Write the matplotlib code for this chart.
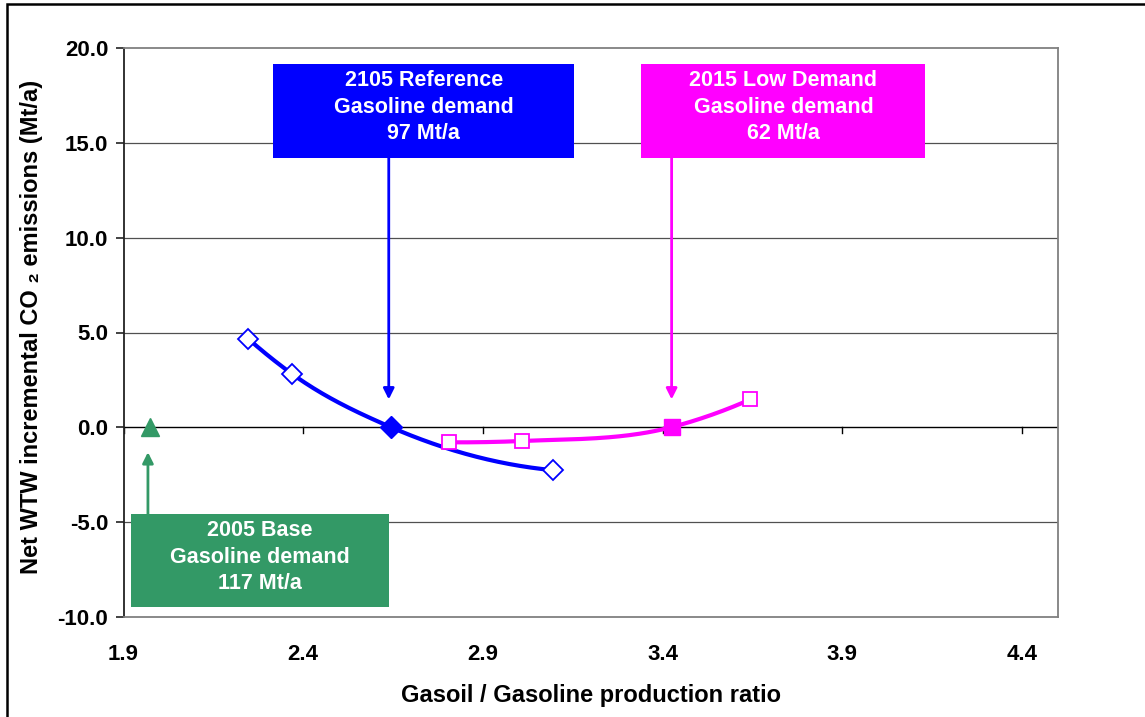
import numpy as np
import matplotlib
matplotlib.use("Agg")
import matplotlib.pyplot as plt
from matplotlib.patches import Rectangle

plt.rcParams['font.family'] = ['Liberation Sans', 'DejaVu Sans']
plt.rcParams['font.weight'] = 'bold'

# ---------------- data ----------------
ref_x = [2.247, 2.368, 2.645, 3.095]
ref_y = [4.67, 2.83, 0.0, -2.26]
ref_filled = 2  # index of highlighted point

low_x = [2.806, 3.009, 3.427, 3.644]
low_y = [-0.79, -0.72, 0.02, 1.47]
low_filled = 2

base_x = [1.973]
base_y = [0.0]

x_ticks = [1.9, 2.4, 2.9, 3.4, 3.9, 4.4]
y_ticks = [-10.0, -5.0, 0.0, 5.0, 10.0, 15.0, 20.0]

box_ref = ["2105 Reference", "Gasoline demand", "97 Mt/a"]
box_low = ["2015 Low Demand", "Gasoline demand", "62 Mt/a"]
box_base = ["2005 Base", "Gasoline demand", "117 Mt/a"]

BLUE = "#0000FF"
MAGENTA = "#FF00FF"
GREEN = "#339966"


def smooth(xs, ys, n=60):
    """Smoothed line through the points (cubic Hermite, Bessel tangents)."""
    x = np.asarray(xs, float)
    y = np.asarray(ys, float)
    h = np.diff(x)
    s = np.diff(y) / h
    m = np.empty_like(x)
    for i in range(1, len(x) - 1):
        m[i] = (h[i] * s[i - 1] + h[i - 1] * s[i]) / (h[i - 1] + h[i])
    m[0] = s[0] - (s[1] - s[0]) * h[0] / (h[0] + h[1])
    m[-1] = s[-1] + (s[-1] - s[-2]) * h[-1] / (h[-2] + h[-1])
    X, Y = [], []
    t = np.linspace(0, 1, n)
    for i in range(len(x) - 1):
        h00 = 2 * t**3 - 3 * t**2 + 1
        h10 = t**3 - 2 * t**2 + t
        h01 = -2 * t**3 + 3 * t**2
        h11 = t**3 - t**2
        X.append(x[i] + t * h[i])
        Y.append(h00 * y[i] + h10 * h[i] * m[i] + h01 * y[i + 1] + h11 * h[i] * m[i + 1])
    return np.concatenate(X), np.concatenate(Y)


W, H = 1145, 717
fig = plt.figure(figsize=(W / 100, H / 100), dpi=100)
L, R, T, B = 123.5, 1058, 48, 617
ax = fig.add_axes([L / W, 1 - B / H, (R - L) / W, (B - T) / H])

ax.set_xlim(1.9, 4.5)
ax.set_ylim(-10, 20)

# gridlines
for yv in y_ticks:
    if -10 < yv < 20 and yv != 0:
        ax.axhline(yv, color="#505050", lw=0.9, zorder=1)
ax.axhline(0, color="black", lw=1.0, zorder=2)
# x tick marks on the zero line
for xv in x_ticks:
    ax.plot([xv, xv], [0, -0.3], color="black", lw=1.0, zorder=2)

# spines
for s in ["top", "right", "bottom"]:
    ax.spines[s].set_color("#808080")
    ax.spines[s].set_linewidth(1.3)
ax.spines["left"].set_color("#222222")
ax.spines["left"].set_linewidth(1.3)

ax.set_xticks(x_ticks)
ax.set_xticklabels([f"{v:.1f}" for v in x_ticks])
ax.set_yticks(y_ticks)
ax.set_yticklabels([f"{v:.1f}" for v in y_ticks])
ax.tick_params(axis="x", length=0, pad=19.5, labelsize=16)
ax.tick_params(axis="y", length=6, width=1.2, color="#222222", pad=5, labelsize=16)
for lab in ax.get_xticklabels() + ax.get_yticklabels():
    lab.set_fontweight("bold")

ax.set_xlabel("Gasoil / Gasoline production ratio", fontsize=17, fontweight="bold")
ax.set_ylabel("Net WTW incremental CO \u2082 emissions (Mt/a)", fontsize=17, fontweight="bold")
ax.xaxis.set_label_coords(0.5, -0.117)
ax.yaxis.set_label_coords(-0.086, 0.51)

# series lines
sx, sy = smooth(ref_x, ref_y)
ax.plot(sx, sy, color=BLUE, lw=3, zorder=4, solid_capstyle="round")
sx, sy = smooth(low_x, low_y)
ax.plot(sx, sy, color=MAGENTA, lw=3, zorder=4, solid_capstyle="round")

# markers
open_ref = [i for i in range(len(ref_x)) if i != ref_filled]
ax.plot([ref_x[i] for i in open_ref], [ref_y[i] for i in open_ref], ls="none",
        marker="D", ms=10.5, mfc="white", mec=BLUE, mew=1.3, zorder=5)
ax.plot([ref_x[ref_filled]], [ref_y[ref_filled]], ls="none", marker="D", ms=11,
        mfc=BLUE, mec=BLUE, zorder=6)
open_low = [i for i in range(len(low_x)) if i != low_filled]
ax.plot([low_x[i] for i in open_low], [low_y[i] for i in open_low], ls="none",
        marker="s", ms=10.5, mfc="white", mec=MAGENTA, mew=1.3, zorder=5)
ax.plot([low_x[low_filled]], [low_y[low_filled]], ls="none", marker="s", ms=11,
        mfc=MAGENTA, mec=MAGENTA, zorder=6)
ax.plot(base_x, base_y, ls="none", marker="^", ms=13, mfc=GREEN, mec=GREEN, zorder=6)


# annotation boxes (positions in data coordinates)
def box(x0, x1, y0, y1, color, lines):
    ax.add_patch(Rectangle((x0, y0), x1 - x0, y1 - y0, facecolor=color,
                           edgecolor="none", zorder=7))
    ax.text((x0 + x1) / 2, (y0 + y1) / 2 + 0.2, "\n".join(lines), color="white",
            ha="center", va="center", fontsize=15.5, fontweight="bold",
            linespacing=1.35, zorder=8)


def arrow(x, y0, y1, color):
    ax.annotate("", xy=(x, y1), xytext=(x, y0),
                arrowprops=dict(arrowstyle="-|>", color=color, lw=2,
                                mutation_scale=16, shrinkA=0, shrinkB=0),
                zorder=6)


box(2.317, 3.154, 14.2, 19.16, BLUE, box_ref)
box(3.341, 4.131, 14.2, 19.16, MAGENTA, box_low)
box(1.921, 2.638, -9.49, -4.59, GREEN, box_base)
arrow(2.638, 14.2, 1.47, BLUE)
arrow(3.425, 14.2, 1.47, MAGENTA)
arrow(1.968, -4.59, -1.31, GREEN)

# chart border
fig.add_artist(Rectangle((7 / W, -0.1), 1.2, 1 - 4 / H + 0.1, transform=fig.transFigure,
                         facecolor="none", edgecolor="black", lw=1.8, clip_on=False))

fig.savefig("out.png", dpi=100)
